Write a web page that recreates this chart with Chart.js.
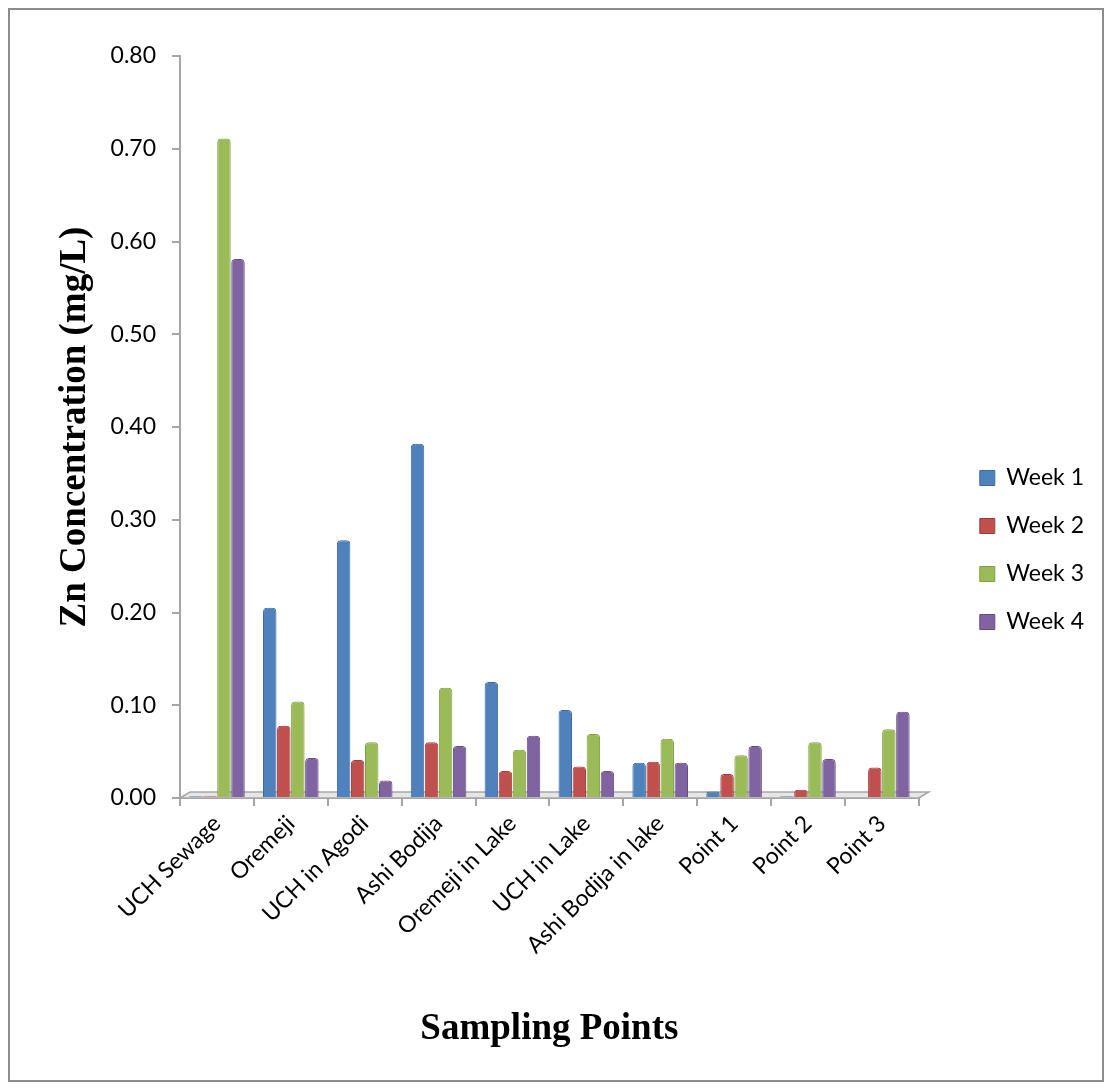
<!DOCTYPE html>
<html>
<head>
<meta charset="utf-8">
<script src="https://cdn.jsdelivr.net/npm/chart.js@4.4.1/dist/chart.umd.min.js"></script>
<style>
  html, body { margin: 0; padding: 0; background: #fff; }
  #frame {
    position: absolute; left: 8px; top: 8px;
    width: 1092px; height: 1070px;
    border: 2px solid #8c8c8c;
  }
  #chart { display: block; }
</style>
</head>
<body>
<div id="frame"><canvas id="chart" width="1092" height="1070"></canvas></div>
<script>
// Sampling points and Zn concentration per week (mg/L)
const samplingPoints = ['UCH Sewage', 'Oremeji', 'UCH in Agodi', 'Ashi Bodija', 'Oremeji in Lake',
                        'UCH in Lake', 'Ashi Bodija in lake', 'Point 1', 'Point 2', 'Point 3'];
const week1 = [0.002, 0.205, 0.278, 0.382, 0.125, 0.095, 0.038, 0.007, 0.002, 0.001];
const week2 = [0.002, 0.078, 0.041, 0.060, 0.029, 0.034, 0.039, 0.026, 0.009, 0.033];
const week3 = [0.711, 0.104, 0.060, 0.119, 0.052, 0.069, 0.064, 0.046, 0.060, 0.074];
const week4 = [0.581, 0.043, 0.019, 0.056, 0.067, 0.029, 0.038, 0.056, 0.042, 0.093];
const yTicks = [0, 0.1, 0.2, 0.3, 0.4, 0.5, 0.6, 0.7, 0.8];

const tickFont = { family: 'Lato, "Open Sans", sans-serif', size: 23 };
const titleFont = { family: '"Liberation Serif", "Times New Roman", serif', size: 37, weight: 'bold' };

function series(label, data, fill, edge) {
    return {
        label: label,
        data: data,
        backgroundColor: fill,
        borderColor: edge,
        borderWidth: 1,
        borderRadius: { topLeft: 4, topRight: 4 },
        borderSkipped: 'bottom',
        barPercentage: 0.96,
        categoryPercentage: 0.76
    };
}

// gray 3D-ish floor under the bars
const floorPlugin = {
    id: 'floor',
    beforeDatasetsDraw(chart) {
        const { ctx, chartArea } = chart;
        const y = chart.scales.y.getPixelForValue(0);
        ctx.save();
        ctx.fillStyle = '#e6e6e6';
        ctx.strokeStyle = '#a6a6a6';
        ctx.lineWidth = 1.5;
        ctx.beginPath();
        ctx.moveTo(chartArea.left, y);
        ctx.lineTo(chartArea.left + 10, y - 6);
        ctx.lineTo(chartArea.right + 10, y - 6);
        ctx.lineTo(chartArea.right, y);
        ctx.closePath();
        ctx.fill();
        ctx.stroke();
        ctx.restore();
    }
};

// push the legend a bit further away from the plot, like the original
const legendShift = {
    id: 'legendShift',
    afterLayout(chart) {
        if (chart.legend) {
            chart.legend.left += 36;
            chart.legend.right += 36;
            chart.legend.top -= 18;
            chart.legend.bottom -= 18;
        }
    }
};

new Chart(document.getElementById('chart').getContext('2d'), {
    type: 'bar',
    data: {
        labels: samplingPoints,
        datasets: [
            series('Week 1', week1, '#4f81bd', '#3c6aa0'),
            series('Week 2', week2, '#c0504d', '#a03c3a'),
            series('Week 3', week3, '#9bbb59', '#7f9e40'),
            series('Week 4', week4, '#8064a2', '#654c86')
        ]
    },
    options: {
        responsive: false,
        animation: false,
        layout: { padding: { top: 46, right: 44, left: 0, bottom: 0 } },
        plugins: {
            tooltip: { enabled: false },
            legend: {
                position: 'right',
                labels: {
                    color: '#000',
                    font: tickFont,
                    boxWidth: 15,
                    boxHeight: 15,
                    padding: 25
                }
            }
        },
        scales: {
            x: {
                afterFit: s => { s.height = 282; },
                grid: { drawOnChartArea: false, color: '#a6a6a6', tickLength: 8, lineWidth: 2 },
                border: { color: '#a6a6a6', width: 2 },
                ticks: { color: '#000', font: tickFont, minRotation: 45, maxRotation: 45, padding: 4 },
                title: { display: true, text: 'Sampling Points', color: '#000', font: titleFont, padding: { top: 0, bottom: 28 } }
            },
            y: {
                min: 0,
                max: 0.8,
                afterFit: s => { s.width = 170; },
                afterBuildTicks: s => { s.ticks = yTicks.map(v => ({ value: v })); },
                grid: { drawOnChartArea: false, color: '#a6a6a6', tickLength: 8, lineWidth: 2 },
                border: { color: '#a6a6a6', width: 2 },
                ticks: { color: '#000', font: tickFont, padding: 16, callback: v => v.toFixed(2) },
                title: { display: true, text: 'Zn Concentration (mg/L)', color: '#000', font: titleFont, padding: { top: 43, bottom: 0 } }
            }
        }
    },
    plugins: [floorPlugin, legendShift]
});
</script>
</body>
</html>
